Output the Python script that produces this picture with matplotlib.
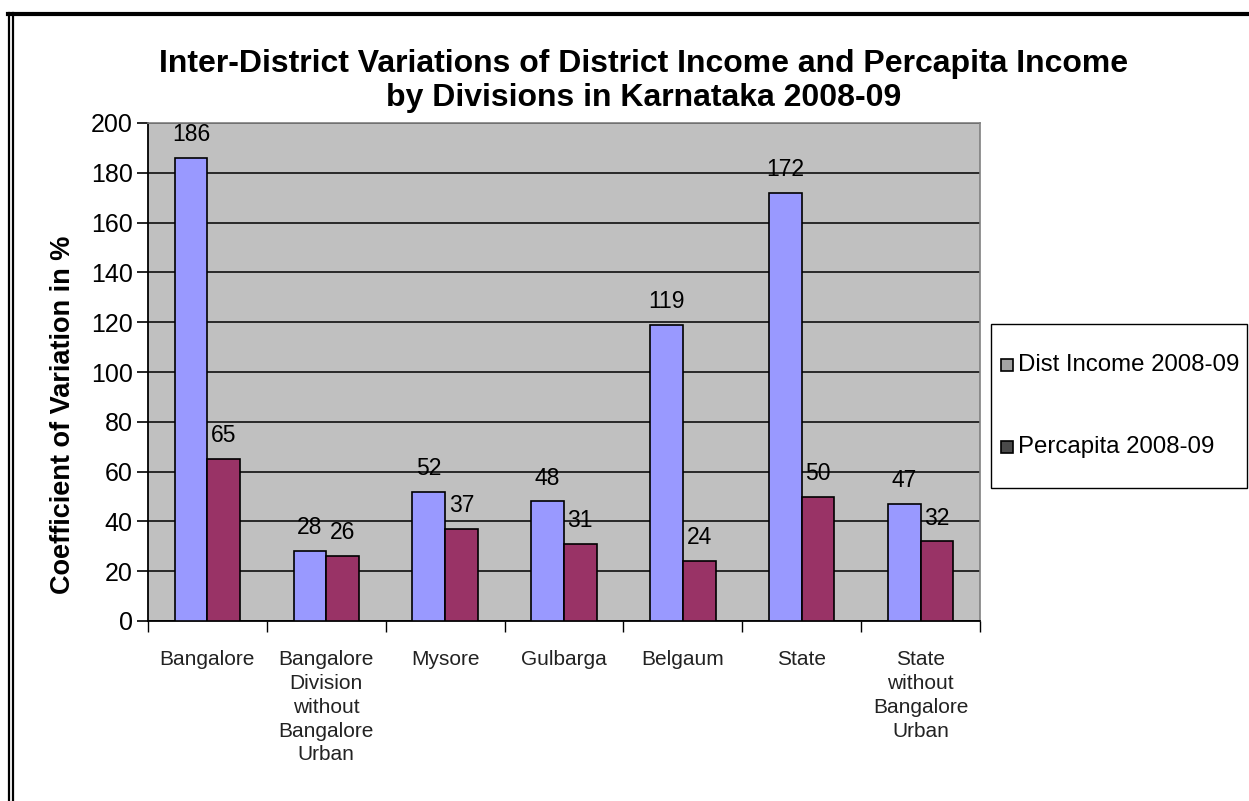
import numpy as np
import matplotlib.pyplot as plt
from matplotlib.patches import Rectangle
from matplotlib.lines import Line2D

plt.rcParams["font.family"] = ["Liberation Sans", "DejaVu Sans"]

CATEGORIES = [
    "Bangalore",
    "Bangalore\nDivision\nwithout\nBangalore\nUrban",
    "Mysore",
    "Gulbarga",
    "Belgaum",
    "State",
    "State\nwithout\nBangalore\nUrban",
]
DIST_INCOME = [186, 28, 52, 48, 119, 172, 47]
PERCAPITA = [65, 26, 37, 31, 24, 50, 32]
SERIES_NAMES = ["Dist Income 2008-09", "Percapita 2008-09"]
TITLE_LINES = [
    "Inter-District Variations of District Income and Percapita Income",
    "by Divisions in Karnataka 2008-09",
]

BLUE = "#9999FF"
MAROON = "#993366"
# legend swatches come out grey in the source image
SWATCHES = ["#A4A4A4", "#4A4A4A"]
W, H = 1249, 801


def fx(px):
    return px / W


def fy(py):
    return 1 - py / H


def main() -> None:
    fig = plt.figure(figsize=(W / 100, H / 100), dpi=100)
    fig.patch.set_facecolor("white")

    # outer chart border (double line on left, single on top)
    for x0 in (8.5, 12.5):
        fig.add_artist(Line2D([fx(x0), fx(x0)], [0, fy(13)], color="black", lw=1.6))
    fig.add_artist(Line2D([fx(8), 1], [fy(14), fy(14)], color="black", lw=3))

    ax = fig.add_axes([fx(148), fy(621), fx(980 - 148), (621 - 123) / H])
    ax.set_facecolor("#C0C0C0")

    x = np.arange(len(CATEGORIES))
    bw = 0.275
    b1 = ax.bar(x - bw / 2, DIST_INCOME, bw, color=BLUE, edgecolor="black", lw=1.2, zorder=3)
    b2 = ax.bar(x + bw / 2, PERCAPITA, bw, color=MAROON, edgecolor="black", lw=1.2, zorder=3)

    for bars, vals in ((b1, DIST_INCOME), (b2, PERCAPITA)):
        for rect, v in zip(bars, vals):
            ax.annotate(f"{v}", (rect.get_x() + rect.get_width() / 2, v),
                        xytext=(0, 8.5), textcoords="offset points",
                        ha="center", va="bottom", fontsize=16.5, color="black", zorder=4)

    ax.set_xlim(-0.5, len(CATEGORIES) - 0.5)
    ax.set_ylim(0, 200)
    ax.set_yticks(range(0, 201, 20))
    ax.yaxis.grid(True, color="black", lw=1.1)
    ax.set_axisbelow(True)
    ax.tick_params(axis="y", direction="out", length=8, width=1.2, labelsize=18, pad=3)

    # category labels sit between boundary ticks
    ax.set_xticks(np.arange(-0.5, len(CATEGORIES)))
    ax.set_xticklabels([])
    ax.tick_params(axis="x", direction="out", length=8, width=1.0)
    for xi, lab in zip(x, CATEGORIES):
        ax.annotate(lab, (xi, 0), xytext=(0, -21), textcoords="offset points",
                    ha="center", va="top", fontsize=15, color="#222222",
                    linespacing=1.32, annotation_clip=False)

    for side in ("left", "bottom"):
        ax.spines[side].set_color("black")
        ax.spines[side].set_linewidth(1.3)
    for side in ("top", "right"):
        ax.spines[side].set_color("#808080")
        ax.spines[side].set_linewidth(1.2)

    fig.text(fx(63), fy(415), "Coefficient of Variation in %", rotation=90,
             ha="center", va="center", fontsize=19.5, fontweight="bold")

    for yy, line in zip((64, 98), TITLE_LINES):
        fig.text(fx(644), fy(yy), line, ha="center", va="center",
                 fontsize=23, fontweight="bold")

    # legend box drawn by hand to hit the source layout
    fig.add_artist(Rectangle((fx(991), fy(488)), fx(1247 - 991), (488 - 324) / H,
                             transform=fig.transFigure, facecolor="white",
                             edgecolor="black", lw=1.0))
    for yy, name, col in zip((365, 447), SERIES_NAMES, SWATCHES):
        fig.add_artist(Rectangle((fx(1001), fy(yy + 6)), fx(12), 12 / H,
                                 transform=fig.transFigure, facecolor=col,
                                 edgecolor="black", lw=1.2))
        fig.text(fx(1018), fy(yy), name, ha="left", va="center", fontsize=17.3)

    fig.savefig("out.png", dpi=100)
    plt.close(fig)


if __name__ == "__main__":
    main()
